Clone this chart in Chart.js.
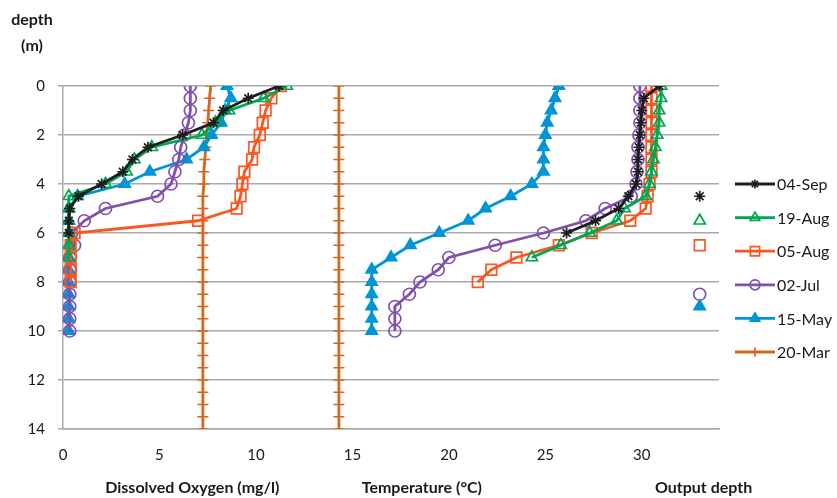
<!DOCTYPE html>
<html>
<head>
<meta charset="utf-8">
<script src="https://cdn.jsdelivr.net/npm/chart.js@4.4.1/dist/chart.umd.min.js"></script>
<style>
  html, body { margin: 0; padding: 0; background: #fff; }
  #wrap { width: 837px; height: 498px; position: relative; }
</style>
</head>
<body>
<div id="wrap"><canvas id="profileChart"></canvas></div>
<script>
// series names (legend order)
const dates = ['04-Sep', '19-Aug', '05-Aug', '02-Jul', '15-May', '20-Mar'];

// depth (m) of each sample, per survey
const depthSep = [0, 0.5, 1, 1.5, 2, 2.5, 3, 3.5, 4, 4.5, 5, 5.5, 6];
const depthAug19 = [0, 0.5, 1, 1.5, 2, 2.5, 3, 3.5, 4, 4.5, 5, 5.5, 6, 6.5, 7];
const depthAug05 = [0, 0.5, 1, 1.5, 2, 2.5, 3, 3.5, 4, 4.5, 5, 5.5, 6, 6.5, 7, 7.5, 8];
const depthJul = [0, 0.5, 1, 1.5, 2, 2.5, 3, 3.5, 4, 4.5, 5, 5.5, 6, 6.5, 7, 7.5, 8, 8.5, 9, 9.5, 10];
const depthMay = [0, 0.5, 1, 1.5, 2, 2.5, 3, 3.5, 4, 4.5, 5, 5.5, 6, 6.5, 7, 7.5, 8, 8.5, 9, 9.5, 10];
const depthMar = [0, 0.5, 1, 1.5, 2, 2.5, 3, 3.5, 4, 4.5, 5, 5.5, 6, 6.5, 7, 7.5, 8, 8.5, 9, 9.5, 10,
                  10.5, 11, 11.5, 12, 12.5, 13, 13.5, 14];

// dissolved oxygen (mg/l)
const oxySep = [11.2, 9.6, 8.3, 7.8, 6.2, 4.4, 3.6, 3.1, 2.0, 0.8, 0.35, 0.3, 0.3];
const oxyAug19 = [11.6, 10.4, 8.6, 7.9, 7.2, 4.6, 3.7, 3.3, 2.2, 0.3, 0.3, 0.3, 0.3, 0.3, 0.3];
const oxyAug05 = [11.3, 10.8, 10.5, 10.35, 10.2, 9.9, 9.8, 9.4, 9.3, 9.2, 9.0, 7.0, 0.6, 0.4, 0.4, 0.4, 0.4];
const oxyJul = [6.6, 6.6, 6.6, 6.5, 6.3, 6.1, 6.0, 5.8, 5.6, 4.9, 2.2, 1.1, 0.45, 0.6, 0.35, 0.35, 0.35,
                0.35, 0.35, 0.35, 0.35];
const oxyMay = [8.5, 8.7, 8.4, 8.2, 7.7, 7.3, 6.4, 4.5, 3.2, 0.75, 0.3, 0.3, 0.3, 0.3, 0.3, 0.3, 0.3,
                0.3, 0.3, 0.3, 0.3];
const oxyMar = [7.65, 7.6, 7.55, 7.5, 7.45, 7.4, 7.35, 7.3, 7.3, 7.25, 7.25, 7.25, 7.25, 7.25, 7.25,
                7.25, 7.25, 7.25, 7.25, 7.25, 7.25, 7.25, 7.25, 7.25, 7.25, 7.25, 7.25, 7.25, 7.25];

// temperature (°C)
const tempSep = [30.9, 30.1, 30.0, 29.95, 29.9, 29.85, 29.8, 29.8, 29.7, 29.3, 28.8, 27.6, 26.1];
const tempAug19 = [31.0, 31.0, 30.9, 30.9, 30.8, 30.7, 30.6, 30.5, 30.4, 30.2, 29.1, 28.7, 27.3, 25.8, 24.3];
const tempAug05 = [30.5, 30.5, 30.5, 30.5, 30.5, 30.5, 30.5, 30.5, 30.4, 30.3, 30.2, 29.4, 27.4, 25.7,
                   23.5, 22.2, 21.5];
const tempJul = [29.9, 29.9, 29.9, 29.9, 29.85, 29.8, 29.8, 29.75, 29.7, 29.45, 28.1, 27.1, 24.9, 22.4,
                 20.0, 19.45, 18.5, 17.95, 17.2, 17.2, 17.2];
const tempMay = [25.7, 25.5, 25.3, 25.1, 25.0, 24.9, 24.9, 24.9, 24.3, 23.2, 21.9, 21.0, 19.5, 18.0,
                 17.0, 16.0, 16.0, 16.0, 16.0, 16.0, 16.0];
const tempMar = [14.3, 14.3, 14.3, 14.3, 14.3, 14.3, 14.3, 14.3, 14.3, 14.3, 14.3, 14.3, 14.3, 14.3,
                 14.3, 14.3, 14.3, 14.3, 14.3, 14.3, 14.3, 14.3, 14.3, 14.3, 14.3, 14.3, 14.3, 14.3, 14.3];

// sensor output depth (m), drawn in the "Output depth" column
const outputX = 33;
const outputDepth = [4.5, 5.5, 6.5, 8.5, 9.0, null];

const xTitles = ['Dissolved Oxygen (mg/l)', 'Temperature (°C)', 'Output depth'];
const xTitlePos = [6.7, 18.6, 33.2];

const colors = ['#1e1e1e', '#00a651', '#fb5520', '#8150ad', '#0095d5', '#d2691e'];
const markers = ['star', 'triangle', 'rect', 'circle', 'triangle', 'cross'];
const fills = ['transparent', 'transparent', 'transparent', 'transparent', '#0095d5', 'transparent'];
const radii = [5.5, 6.5, 7.5, 6, 6.5, 5.5];

const depths = [depthSep, depthAug19, depthAug05, depthJul, depthMay, depthMar];
const oxygen = [oxySep, oxyAug19, oxyAug05, oxyJul, oxyMay, oxyMar];
const temps = [tempSep, tempAug19, tempAug05, tempJul, tempMay, tempMar];

const FONT = 'Lato, "Open Sans", sans-serif';

function pts(xs, ys) {
  return xs.map((v, i) => ({ x: v, y: ys[i] }));
}

function style(i, extra) {
  return Object.assign({
    borderColor: colors[i],
    backgroundColor: fills[i],
    pointStyle: markers[i],
    pointRadius: radii[i],
    pointBorderColor: colors[i],
    pointBackgroundColor: fills[i],
    pointBorderWidth: 1.7,
    borderWidth: 2.8,
    showLine: true,
    fill: false,
    tension: 0
  }, extra);
}

const datasets = [];
dates.forEach((d, i) => {
  datasets.push(style(i, { label: d, data: pts(oxygen[i], depths[i]) }));
  datasets.push(style(i, { label: d + ' temp', data: pts(temps[i], depths[i]) }));
  if (outputDepth[i] !== null) {
    datasets.push(style(i, { label: d + ' out', data: [{ x: outputX, y: outputDepth[i] }], showLine: false }));
  }
});

const drawMarker = (ctx, i, x, y) => {
  ctx.save();
  ctx.strokeStyle = colors[i];
  ctx.fillStyle = fills[i];
  ctx.lineWidth = 1.7;
  Chart.helpers.drawPoint(ctx, { pointStyle: markers[i], radius: radii[i] - 1, borderWidth: 1.7, rotation: 0 }, x, y);
  ctx.restore();
};

// legend: line with marker, then date
const sideLegend = {
  id: 'sideLegend',
  afterDraw(chart) {
    const ctx = chart.ctx;
    const a = chart.chartArea;
    ctx.save();
    ctx.font = '16px ' + FONT;
    ctx.textBaseline = 'middle';
    ctx.textAlign = 'left';
    dates.forEach((d, i) => {
      const y = a.top + 98 + i * 33.6;
      const x0 = a.right + 16;
      ctx.strokeStyle = colors[i];
      ctx.lineWidth = 2.8;
      ctx.beginPath();
      ctx.moveTo(x0, y);
      ctx.lineTo(x0 + 40, y);
      ctx.stroke();
      drawMarker(ctx, i, x0 + 20, y);
      ctx.fillStyle = '#1a1a1a';
      ctx.fillText(d, x0 + 42, y + 1);
    });
    ctx.restore();
  }
};

// axis titles
const axisTitles = {
  id: 'axisTitles',
  afterDraw(chart) {
    const ctx = chart.ctx;
    const xs = chart.scales.x;
    ctx.save();
    ctx.font = 'bold 16px ' + FONT;
    ctx.fillStyle = '#1a1a1a';
    ctx.textAlign = 'center';
    ctx.textBaseline = 'middle';
    xTitles.forEach((t, i) => ctx.fillText(t, xs.getPixelForValue(xTitlePos[i]), 488));
    ctx.fillText('depth', 32, 20);
    ctx.fillText('(m)', 32, 46);
    ctx.restore();
  }
};

new Chart(document.getElementById('profileChart'), {
  type: 'scatter',
  data: { datasets },
  options: {
    responsive: true,
    maintainAspectRatio: false,
    animation: false,
    events: [],
    layout: { padding: { left: 0, top: 86, right: 118, bottom: 33 } },
    plugins: { legend: { display: false }, tooltip: { enabled: false } },
    scales: {
      x: {
        type: 'linear',
        min: 0,
        max: 34,
        grid: { display: false, drawTicks: false },
        border: { display: true, color: '#aaaaaa', width: 1.5 },
        ticks: {
          stepSize: 5,
          includeBounds: false,
          padding: 17,
          color: '#1a1a1a',
          font: { family: FONT, size: 15 }
        },
        afterFit(scale) { scale.height = 36; }
      },
      y: {
        type: 'linear',
        min: 0,
        max: 14,
        reverse: true,
        grid: { color: '#aaaaaa', lineWidth: 1.5, drawTicks: true, tickLength: 5 },
        border: { display: true, color: '#aaaaaa', width: 1.5 },
        ticks: {
          stepSize: 2,
          padding: 13,
          color: '#1a1a1a',
          font: { family: FONT, size: 15 }
        },
        afterFit(scale) { scale.width = 63; }
      }
    }
  },
  plugins: [sideLegend, axisTitles]
});
</script>
</body>
</html>
